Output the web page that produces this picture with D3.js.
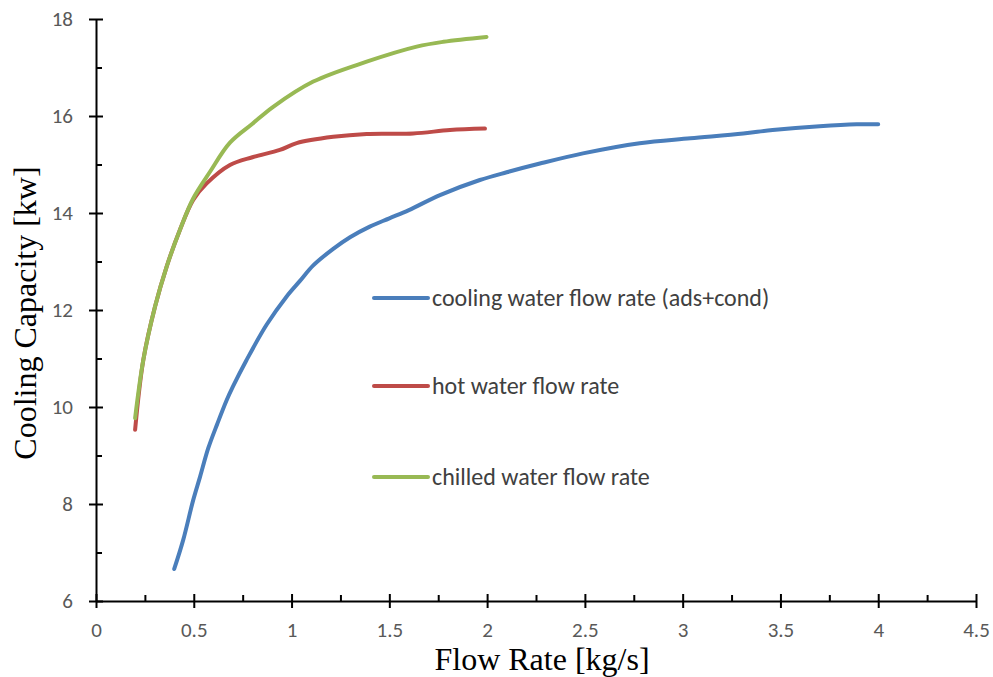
<!DOCTYPE html>
<html>
<head>
<meta charset="utf-8">
<script src="https://cdn.jsdelivr.net/npm/d3@7"></script>
<style>
  html, body { margin: 0; padding: 0; background: #fff; }
  svg { display: block; }
</style>
</head>
<body>
<svg id="chart" width="993" height="677"></svg>
<script>
// ---- data ----
const seriesNames = ["cooling water flow rate (ads+cond)", "hot water flow rate", "chilled water flow rate"];
const seriesColors = ["#4a7ebb", "#be4b48", "#98b954"];

const coolingX = [0.40, 0.446, 0.497, 0.532, 0.574, 0.62, 0.668, 0.70, 0.77, 0.873, 0.975, 1.043, 1.111, 1.213, 1.299, 1.40, 1.50, 1.60, 1.759, 1.963, 2.10, 2.27, 2.49, 2.78, 3.04, 3.31, 3.46, 3.70, 3.89, 4.0];
const coolingY = [6.66, 7.26, 8.08, 8.56, 9.15, 9.65, 10.14, 10.42, 10.97, 11.70, 12.28, 12.60, 12.92, 13.26, 13.50, 13.72, 13.89, 14.06, 14.37, 14.68, 14.84, 15.02, 15.23, 15.44, 15.54, 15.64, 15.71, 15.79, 15.83, 15.83];

const hotX = [0.2, 0.242, 0.302, 0.361, 0.429, 0.497, 0.566, 0.685, 0.80, 0.94, 1.026, 1.213, 1.384, 1.622, 1.81, 1.989];
const hotY = [9.53, 10.97, 12.07, 12.89, 13.65, 14.27, 14.61, 14.99, 15.15, 15.30, 15.44, 15.57, 15.63, 15.64, 15.71, 15.74];

const chilledX = [0.2, 0.242, 0.302, 0.361, 0.429, 0.497, 0.583, 0.685, 0.80, 0.906, 1.111, 1.384, 1.64, 1.776, 1.997];
const chilledY = [9.77, 10.97, 12.07, 12.89, 13.65, 14.30, 14.85, 15.45, 15.84, 16.19, 16.71, 17.12, 17.43, 17.53, 17.63];

const xTicks = [0, 0.5, 1, 1.5, 2, 2.5, 3, 3.5, 4, 4.5];
const yTicks = [6, 8, 10, 12, 14, 16, 18];
const xMinorTicks = [0.25, 0.75, 1.25, 1.75, 2.25, 2.75, 3.25, 3.75, 4.25];
const yMinorTicks = [7, 9, 11, 13, 15, 17];

const xTitle = "Flow Rate [kg/s]";
const yTitle = "Cooling Capacity [kw]";

// ---- layout ----
const svg = d3.select("#chart");
const plotLeft = 96, plotRight = 976, plotTop = 19, plotBottom = 601;

const x = d3.scaleLinear().domain([0, 4.5]).range([plotLeft, plotRight]);
const y = d3.scaleLinear().domain([6, 18]).range([plotBottom, plotTop]);

const tickFont = "Carlito, Lato, 'Open Sans', sans-serif";

// minor ticks (inside only)
svg.append("g")
  .attr("transform", `translate(0,${plotBottom})`)
  .call(d3.axisTop(x).tickValues(xMinorTicks).tickSize(6).tickFormat(""))
  .call(g => g.select(".domain").remove())
  .call(g => g.selectAll("line").attr("stroke", "#000").attr("stroke-width", 2));
svg.append("g")
  .attr("transform", `translate(${plotLeft},0)`)
  .call(d3.axisRight(y).tickValues(yMinorTicks).tickSize(6).tickFormat(""))
  .call(g => g.select(".domain").remove())
  .call(g => g.selectAll("line").attr("stroke", "#000").attr("stroke-width", 2));

// major x axis (cross ticks)
const gx = svg.append("g")
  .attr("transform", `translate(0,${plotBottom})`)
  .call(d3.axisBottom(x).tickValues(xTicks).tickSize(7).tickPadding(14).tickSizeOuter(0).tickFormat(d3.format("")));
gx.select(".domain").attr("stroke", "#000").attr("stroke-width", 2);
gx.selectAll(".tick line").clone().attr("y2", -7);
gx.selectAll(".tick line").attr("stroke", "#000").attr("stroke-width", 2);
gx.selectAll("text").attr("fill", "#595959").style("font-family", tickFont).style("font-size", "21px");

// major y axis
const gy = svg.append("g")
  .attr("transform", `translate(${plotLeft},0)`)
  .call(d3.axisLeft(y).tickValues(yTicks).tickSize(7).tickPadding(16).tickSizeOuter(0));
gy.select(".domain").attr("stroke", "#000").attr("stroke-width", 2);
gy.selectAll(".tick line").clone().attr("x2", 7);
gy.selectAll(".tick line").attr("stroke", "#000").attr("stroke-width", 2);
gy.selectAll("text").attr("fill", "#595959").style("font-family", tickFont).style("font-size", "21px");

// lines
const series = [
  { name: seriesNames[0], color: seriesColors[0], xs: coolingX, ys: coolingY },
  { name: seriesNames[1], color: seriesColors[1], xs: hotX, ys: hotY },
  { name: seriesNames[2], color: seriesColors[2], xs: chilledX, ys: chilledY }
];
const line = d3.line().x(d => x(d[0])).y(d => y(d[1])).curve(d3.curveCatmullRom.alpha(0.5));
series.forEach(s => {
  svg.append("path")
    .datum(s.xs.map((v, i) => [v, s.ys[i]]))
    .attr("fill", "none")
    .attr("stroke", s.color)
    .attr("stroke-width", 4)
    .attr("stroke-linecap", "round")
    .attr("d", line);
});

// legend
const legendY = [298, 386, 477];
series.forEach((s, i) => {
  const g = svg.append("g").attr("transform", `translate(374,${legendY[i]})`);
  g.append("line").attr("x1", 0).attr("x2", 54).attr("y1", 0).attr("y2", 0)
    .attr("stroke", s.color).attr("stroke-width", 4).attr("stroke-linecap", "round");
  g.append("text").attr("x", 58).attr("y", 0).attr("dy", "0.35em")
    .attr("fill", "#404040")
    .style("font-family", tickFont).style("font-size", "24px")
    .text(s.name);
});

// axis titles
svg.append("text")
  .attr("x", 542).attr("y", 670)
  .attr("text-anchor", "middle")
  .style("font-family", "'Liberation Serif', 'Times New Roman', serif")
  .style("font-size", "32px")
  .attr("fill", "#000")
  .text(xTitle);
svg.append("text")
  .attr("transform", `translate(36,313) rotate(-90)`)
  .attr("text-anchor", "middle")
  .style("font-family", "'Liberation Serif', 'Times New Roman', serif")
  .style("font-size", "32px")
  .attr("fill", "#000")
  .text(yTitle);
</script>
</body>
</html>
